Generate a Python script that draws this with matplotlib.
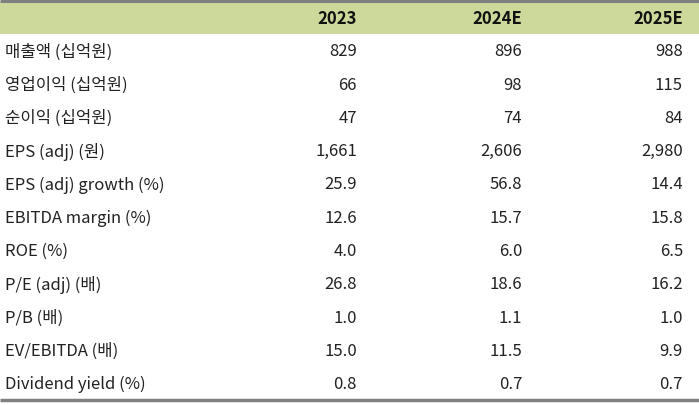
import matplotlib
matplotlib.use("Agg")
import matplotlib.pyplot as plt

plt.rcParams['font.family'] = ['Noto Sans CJK KR', 'DejaVu Sans']

columns = ["2023", "2024E", "2025E"]
row_labels = ["매출액 (십억원)", "영업이익 (십억원)", "순이익 (십억원)", "EPS (adj) (원)",
              "EPS (adj) growth (%)", "EBITDA margin (%)", "ROE (%)", "P/E (adj) (배)",
              "P/B (배)", "EV/EBITDA (배)", "Dividend yield (%)"]
val_2023 = ["829", "66", "47", "1,661", "25.9", "12.6", "4.0", "26.8", "1.0", "15.0", "0.8"]
val_2024 = ["896", "98", "74", "2,606", "56.8", "15.7", "6.0", "18.6", "1.1", "11.5", "0.7"]
val_2025 = ["988", "115", "84", "2,980", "14.4", "15.8", "6.5", "16.2", "1.0", "9.9", "0.7"]

W, H = 699, 406
fig = plt.figure(figsize=(W / 100, H / 100), dpi=100)
ax = fig.add_axes([0, 0, 1, 1])
ax.set_xlim(0, W)
ax.set_ylim(H, 0)
ax.axis('off')

# header band
ax.add_patch(plt.Rectangle((0, 2), W, 33, facecolor='#CCD99B', edgecolor='none'))
ax.plot([0, W], [1.5, 1.5], color='#808080', lw=2.2, solid_capstyle='butt')
ax.plot([0, W], [401, 401], color='#808080', lw=2.5, solid_capstyle='butt')

col_x = [357, 522, 683]
fs = 12
for x, c in zip(col_x, columns):
    ax.text(x, 19, c, ha='right', va='center', fontsize=fs, fontweight='bold', color='#111111')

y0, dy = 51.8, 33.3
cols = [val_2023, val_2024, val_2025]
for i, lab in enumerate(row_labels):
    y = y0 + i * dy
    ax.text(5, y, lab, ha='left', va='center', fontsize=fs, color='#222222')
    for x, vals in zip(col_x, cols):
        ax.text(x, y, vals[i], ha='right', va='center', fontsize=fs, color='#222222')

fig.savefig("out.png", dpi=100)
